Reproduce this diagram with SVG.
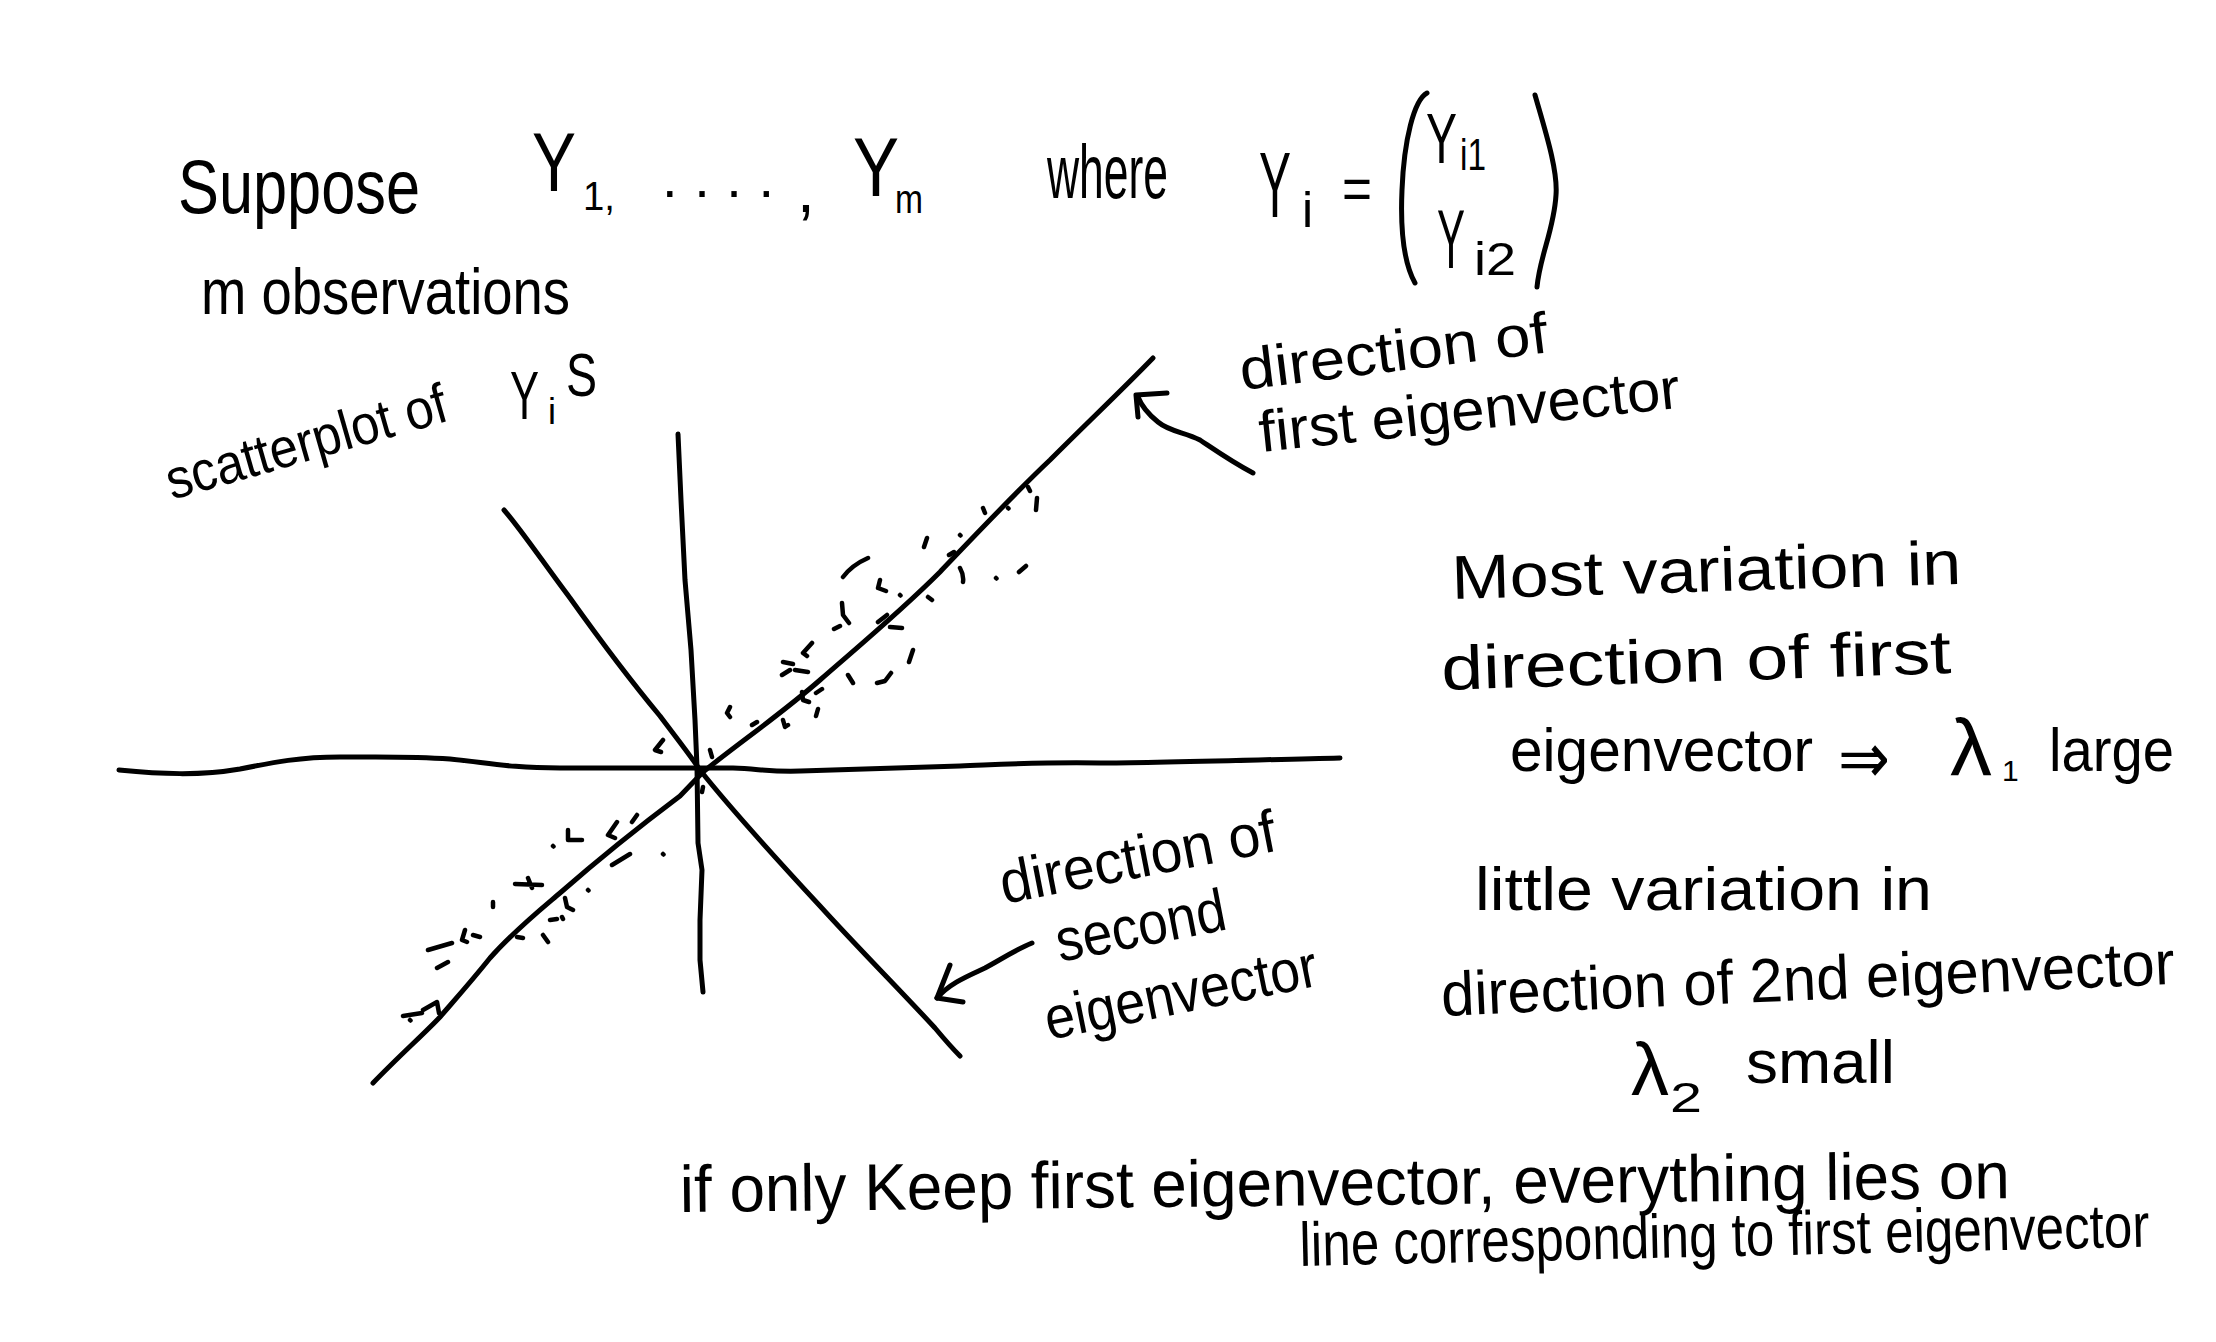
<svg xmlns="http://www.w3.org/2000/svg" width="2216" height="1342" viewBox="0 0 2216 1342">
<style>
.t{font-family:"Liberation Sans Narrow","Liberation Sans",Arial,sans-serif;fill:#000}
.m{font-family:"DejaVu Sans","Liberation Sans",sans-serif;fill:#000}
.s{fill:none;stroke:#000;stroke-width:5;stroke-linecap:round;stroke-linejoin:round}
.d{fill:none;stroke:#000;stroke-width:4.5;stroke-linecap:round;stroke-linejoin:round}
</style>
<rect width="2216" height="1342" fill="#fff"/>

<g id="header">
<text class="t" x="178" y="213" font-size="76" textLength="242" lengthAdjust="spacingAndGlyphs">Suppose</text>
<text class="t" x="532" y="191" font-size="84" textLength="44" lengthAdjust="spacingAndGlyphs">Y</text>
<text class="t" x="583" y="210" font-size="40" textLength="32" lengthAdjust="spacingAndGlyphs">1,</text>
<text class="t" x="662" y="197" font-size="56" textLength="112" lengthAdjust="spacing">. . . .</text>
<text class="t" x="797" y="212" font-size="64">,</text>
<text class="t" x="853" y="196" font-size="84" textLength="46" lengthAdjust="spacingAndGlyphs">Y</text>
<text class="t" x="895" y="213" font-size="40" textLength="28" lengthAdjust="spacingAndGlyphs">m</text>
<text class="t" x="1047" y="198" font-size="76" textLength="121" lengthAdjust="spacingAndGlyphs">where</text>
<text class="t" x="1259" y="217" font-size="92" textLength="32" lengthAdjust="spacingAndGlyphs">Y</text>
<text class="t" x="1302" y="227" font-size="50">i</text>
<text class="t" x="1342" y="209" font-size="60" textLength="30" lengthAdjust="spacingAndGlyphs">=</text>
<path class="s" d="M1427,93 C1414,100 1404,140 1402,190 C1400,235 1405,265 1415,283"/>
<text class="t" x="1426" y="163" font-size="70" textLength="31" lengthAdjust="spacingAndGlyphs">Y</text>
<text class="t" x="1460" y="170" font-size="44" textLength="26" lengthAdjust="spacingAndGlyphs">i1</text>
<text class="t" x="1437" y="268" font-size="84" textLength="28" lengthAdjust="spacingAndGlyphs">Y</text>
<text class="t" x="1474" y="275" font-size="46" textLength="42" lengthAdjust="spacingAndGlyphs">i2</text>
<path class="s" d="M1535,95 C1545,130 1558,170 1556,195 C1554,230 1540,255 1537,287"/>
<text class="t" x="201" y="314" font-size="64" textLength="369" lengthAdjust="spacingAndGlyphs">m observations</text>
<text class="t" x="172" y="500" font-size="56" textLength="290" lengthAdjust="spacingAndGlyphs" transform="rotate(-16 172 500)">scatterplot of</text>
<text class="t" x="510" y="419" font-size="68" textLength="29" lengthAdjust="spacingAndGlyphs">Y</text>
<text class="t" x="548" y="424" font-size="36">i</text>
<text class="t" x="566" y="396" font-size="62" textLength="31" lengthAdjust="spacingAndGlyphs">S</text>
</g>

<g id="plot">
<path class="s" d="M119,770 C160,774 200,776 240,769 C275,762 300,757 340,757 C380,757 410,756 450,759 C490,763 510,768 560,768 C610,768 680,768 733,768 C760,769 770,772 800,771 C850,769 900,768 960,766 C1010,764 1040,762 1100,763 C1150,763 1250,760 1340,758"/>
<polyline class="s" points="678,434 681,500 685,580 691,650 695,720 697,767 698,843 702,870 700,920 700,960 703,992"/>
<path class="s" d="M373,1083 C400,1055 425,1033 440,1017 C452,1003 470,983 490,958 C515,930 540,910 560,893 C600,858 640,826 680,796 L703,772 C740,742 780,715 820,680 C860,645 900,612 940,572 C980,530 1015,493 1050,460 C1090,420 1120,392 1153,358"/>
<path class="s" d="M504,510 C520,528 545,565 570,598 C600,640 630,680 660,716 C675,736 690,755 700,770 C730,808 770,852 820,906 C860,950 900,990 935,1028 C945,1040 952,1048 960,1056"/>
</g>

<g id="scatter">
<path class="d" d="M1028,487 l2,4 M1037,498 L1036,510 M983,508 l2,5 M1008,508 l0.5,0.5 M927,538 L924,547 M960,535 l0.5,0.5 M949,555 L954,552 M960,568 Q964,575 963,582 M996,578 l0.5,0.5 M1019,572 L1026,566 M843,577 Q852,565 868,558 M880,580 L878,588 L886,591 M900,595 l0.5,0.5 M928,597 L932,600 M842,603 L843,615 L849,623 M834,629 L840,626 M878,622 L887,615 M890,627 L902,628 M913,650 L909,662 M877,683 L885,681 L891,673 M848,675 L853,683 M812,643 L803,653 L807,656 M783,662 L793,664 M782,675 L790,670 M795,670 L808,672 M802,692 L803,700 L809,702 M816,693 L822,689 M816,716 L818,709 M730,707 L727,713 L730,717 M752,725 L757,722 M783,720 L785,727 L788,725 M663,740 L655,750 L661,752 M710,750 L712,757"/>
<path class="d" d="M702,792 L703,787 M637,815 L632,822 M617,822 L608,835 L615,838 M568,830 L568,840 L582,840 M553,846 l0.5,0.5 M612,865 L630,854 M663,854 l0.5,0.5 M515,884 L542,885 M528,878 L532,888 M588,890 l0.5,0.5 M493,902 L493,907 M565,898 L567,907 L573,910 M550,920 L557,919 M562,917 L563,919 M517,937 L523,938 M543,935 L548,942 M428,950 L452,943 M465,930 L462,940 L467,942 M473,935 L480,937 M437,968 L448,962 M403,1016 L422,1013 M410,1020 l0.5,0.5 M423,1010 L437,1002 L439,1013"/>
</g>

<g id="label-first">
<text class="t" x="1242" y="390" font-size="58" textLength="310" lengthAdjust="spacingAndGlyphs" transform="rotate(-7 1242 390)">direction of</text>
<text class="t" x="1261" y="452" font-size="58" textLength="423" lengthAdjust="spacingAndGlyphs" transform="rotate(-6 1261 452)">first eigenvector</text>
</g>
<g id="label-second">
<text class="t" x="1004" y="904" font-size="60" textLength="280" lengthAdjust="spacingAndGlyphs" transform="rotate(-11 1004 904)">direction of</text>
<text class="t" x="1060" y="962" font-size="60" textLength="172" lengthAdjust="spacingAndGlyphs" transform="rotate(-11 1060 962)">second</text>
<text class="t" x="1049" y="1040" font-size="60" textLength="277" lengthAdjust="spacingAndGlyphs" transform="rotate(-11.4 1049 1040)">eigenvector</text>
</g>

<g id="connectors">
<path class="s" d="M1253,473 C1232,462 1215,450 1200,440 C1185,432 1170,432 1158,422 C1148,414 1142,407 1138,397"/>
<path class="s" d="M1138,417 L1136,395 L1167,393"/>
<path class="s" d="M1032,943 C1015,950 1000,960 985,968 C968,976 950,983 937,998"/>
<path class="s" d="M950,965 L937,998 L963,1002"/>
</g>

<g id="notes">
<text class="t" x="1452" y="599" font-size="62" textLength="510" lengthAdjust="spacingAndGlyphs" transform="rotate(-1.7 1452 599)">Most variation in</text>
<text class="t" x="1442" y="690" font-size="62" textLength="510" lengthAdjust="spacingAndGlyphs" transform="rotate(-1.9 1442 690)">direction of first</text>
<text class="t" x="1510" y="771" font-size="62" textLength="303" lengthAdjust="spacingAndGlyphs">eigenvector</text>
<text class="m" x="1838" y="783" font-size="72" textLength="52" lengthAdjust="spacingAndGlyphs">⇒</text>
<text class="t" x="1950" y="775" font-size="80" textLength="42" lengthAdjust="spacingAndGlyphs">λ</text>
<text class="t" x="2002" y="781" font-size="30">1</text>
<text class="t" x="2049" y="771" font-size="62" textLength="125" lengthAdjust="spacingAndGlyphs">large</text>
<text class="t" x="1475" y="910" font-size="62" textLength="457" lengthAdjust="spacingAndGlyphs">little variation in</text>
<text class="t" x="1442" y="1016" font-size="62" textLength="734" lengthAdjust="spacingAndGlyphs" transform="rotate(-2.5 1442 1016)">direction of 2nd eigenvector</text>
<text class="t" x="1631" y="1095" font-size="74" textLength="38" lengthAdjust="spacingAndGlyphs">λ</text>
<text class="t" x="1670" y="1112" font-size="42" textLength="32" lengthAdjust="spacingAndGlyphs">2</text>
<text class="t" x="1746" y="1083" font-size="62" textLength="149" lengthAdjust="spacingAndGlyphs">small</text>
</g>

<g id="footer">
<text class="t" x="680" y="1212" font-size="66" textLength="1330" lengthAdjust="spacingAndGlyphs" transform="rotate(-0.6 680 1212)">if only Keep first eigenvector, everything lies on</text>
<text class="t" x="1300" y="1266" font-size="62" textLength="850" lengthAdjust="spacingAndGlyphs" transform="rotate(-1.3 1300 1266)">line corresponding to first eigenvector</text>
</g>
</svg>
